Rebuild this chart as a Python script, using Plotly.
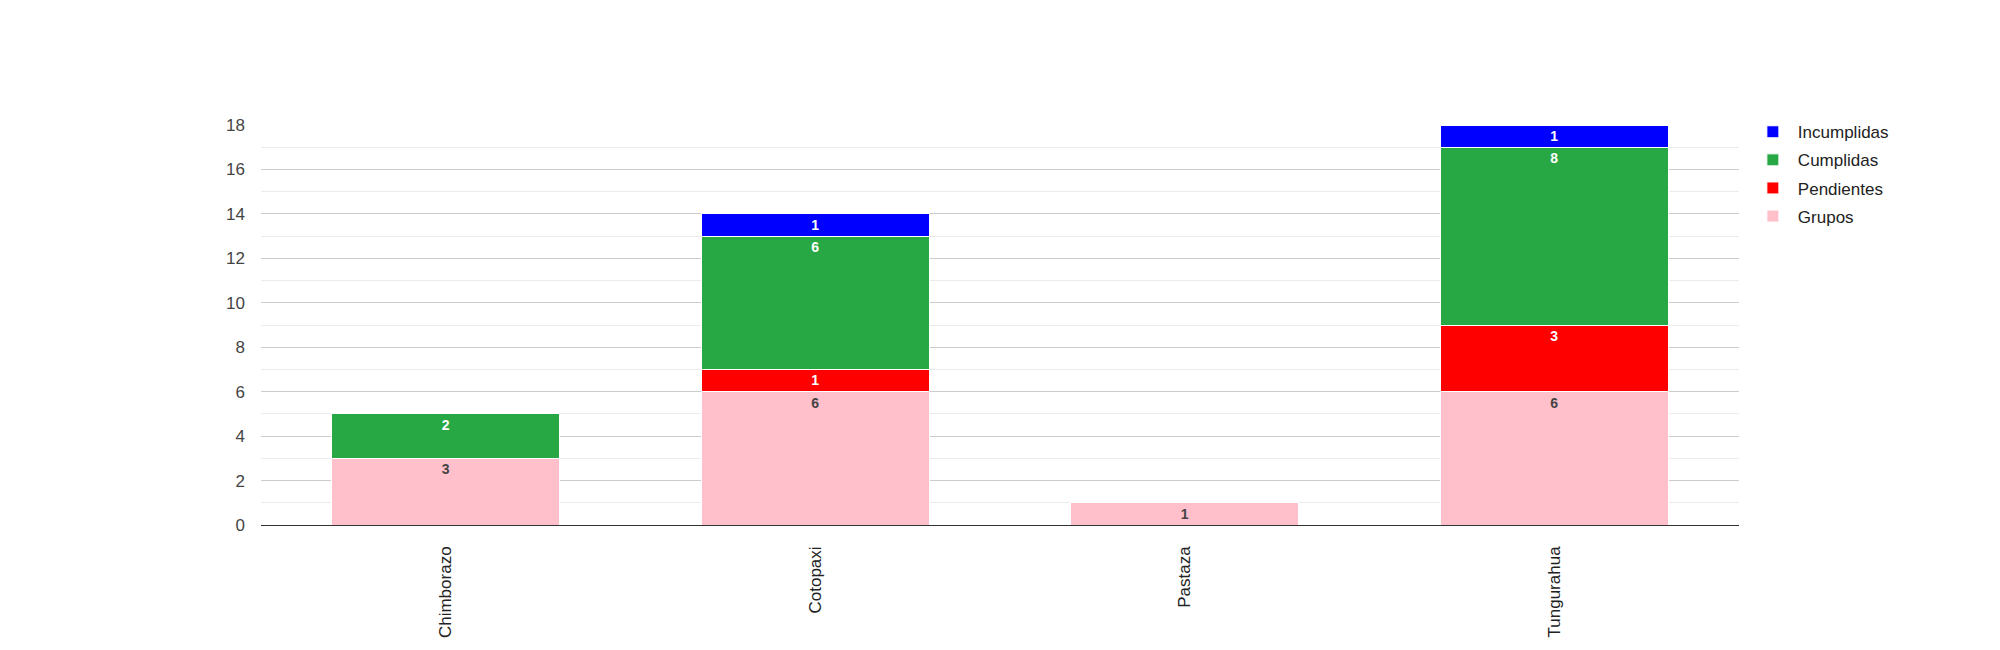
import plotly.graph_objects as go

categories = ["Chimborazo", "Cotopaxi", "Pastaza", "Tungurahua"]
grupos = [3, 6, 1, 6]
pendientes = [0, 1, 0, 3]
cumplidas = [2, 6, 0, 8]
incumplidas = [0, 1, 0, 1]
y_ticks = [0, 2, 4, 6, 8, 10, 12, 14, 16, 18]

series = [
    ("Grupos", grupos, "#ffc0cb", "#444444", 4),
    ("Pendientes", pendientes, "#ff0000", "#ffffff", 3),
    ("Cumplidas", cumplidas, "#28a745", "#ffffff", 2),
    ("Incumplidas", incumplidas, "#0000ff", "#ffffff", 1),
]

fig = go.Figure()
for name, vals, color, tcolor, rank in series:
    fig.add_trace(go.Bar(
        name=name,
        legendgroup=name,
        legendrank=rank,
        x=categories,
        y=vals,
        marker=dict(color=color, line=dict(color="#ffffff", width=1)),
        text=[str(v) if v else "" for v in vals],
        textposition="inside",
        insidetextanchor="end",
        textangle=0,
        textfont=dict(family="Liberation Sans, Arial", size=14, color=tcolor, weight="bold"),
        hoverinfo="x+y+name",
    ))

fig.update_layout(
    barmode="stack",
    bargap=0.383,
    width=1984,
    height=634,
    paper_bgcolor="white",
    plot_bgcolor="white",
    margin=dict(l=253, r=253, t=117, b=117, autoexpand=False),
    font=dict(family="Liberation Sans, Arial", size=16, color="#444444"),
    legend=dict(
        traceorder="grouped",
        x=1.006, y=1.027, xanchor="left", yanchor="top",
        font=dict(size=17, color="#222222"),
        itemwidth=40,
        tracegroupgap=3,
    ),
    xaxis=dict(
        tickangle=-90,
        showgrid=False,
        ticks="",
        automargin=False,
        ticklabelstandoff=17,
        tickfont=dict(size=17, color="#222222"),
    ),
    yaxis=dict(
        range=[0, 18],
        tickvals=y_ticks,
        showgrid=True,
        gridcolor="#cccccc",
        gridwidth=1,
        zeroline=True,
        zerolinecolor="#333333",
        zerolinewidth=1,
        ticks="",
        automargin=False,
        ticklabelstandoff=15,
        tickfont=dict(size=17, color="#444444"),
        minor=dict(dtick=1, showgrid=True, gridcolor="#ebebeb", gridwidth=1),
    ),
)

fig.write_html("out.html")
